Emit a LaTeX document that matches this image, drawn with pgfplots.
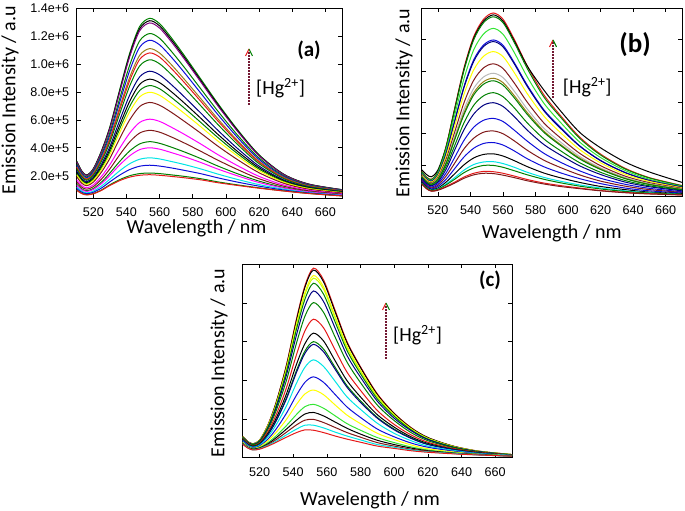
\documentclass[border=0pt]{standalone}
\usepackage{fontspec}
\setmainfont{Liberation Sans}
\newfontfamily\calib{Carlito}
\usepackage{pgfplots}
\usepackage{pgfplotstable}
\pgfplotsset{compat=1.18}

\definecolor{cG}{rgb}{0,0.5,0}
\definecolor{cLime}{rgb}{0.2,0.9,0.2}
\definecolor{cBlue}{rgb}{0.05,0.05,0.85}
\definecolor{cNavy}{rgb}{0,0,0.5}
\definecolor{cRed}{rgb}{0.9,0.1,0.1}
\definecolor{cMaroon}{rgb}{0.5,0.1,0.1}
\definecolor{cMag}{rgb}{1,0,1}
\definecolor{cCyan}{rgb}{0,0.9,0.9}
\definecolor{cYel}{rgb}{1,1,0}
\definecolor{cYG}{rgb}{0.8,1,0}
\definecolor{cOlive}{rgb}{0.6,0.5,0.1}
\definecolor{cPurple}{rgb}{0.5,0,0.5}
\definecolor{cGrey}{rgb}{0.72,0.72,0.72}
\definecolor{arrowc}{rgb}{0.45,0.1,0.2}

\pgfplotstableread{
x a1 a2 a3 a4 a5 a6 a7 a8 a9 a10 a11 a12 a13 a14 a15 a16 a17 a18 a19 a20 a21
510 3.05 3.02 2.99 2.85 2.76 2.64 2.59 2.49 2.34 2.23 2.15 2.06 1.92 1.70 1.55 1.39 1.31 1.18 1.08 .97 .95
513 2.35 2.33 2.30 2.19 2.12 2.03 1.99 1.92 1.80 1.72 1.65 1.58 1.47 1.30 1.18 1.06 1.00 .90 .82 .74 .72
516 2.05 2.03 2.01 1.91 1.85 1.77 1.73 1.67 1.57 1.49 1.44 1.37 1.28 1.13 1.03 .92 .87 .77 .71 .64 .62
520 2.50 2.47 2.45 2.33 2.25 2.15 2.10 2.02 1.89 1.80 1.73 1.65 1.53 1.34 1.21 1.08 1.01 .89 .81 .72 .70
525 3.80 3.76 3.72 3.52 3.40 3.25 3.17 3.04 2.84 2.69 2.57 2.45 2.27 1.96 1.76 1.55 1.44 1.26 1.12 .98 .95
530 5.50 5.44 5.38 5.09 4.91 4.69 4.57 4.39 4.08 3.87 3.69 3.51 3.24 2.79 2.49 2.19 2.02 1.75 1.56 1.35 1.30
536 8.20 8.10 8.01 7.56 7.28 6.93 6.75 6.46 5.99 5.65 5.38 5.10 4.68 3.98 3.51 3.03 2.78 2.36 2.05 1.72 1.65
542 10.80 10.67 10.54 9.94 9.55 9.07 8.83 8.44 7.79 7.34 6.97 6.59 6.01 5.06 4.43 3.78 3.43 2.86 2.44 2.00 1.90
548 12.70 12.54 12.39 11.67 11.21 10.63 10.34 9.87 9.09 8.55 8.11 7.65 6.96 5.82 5.06 4.28 3.87 3.18 2.68 2.15 2.03
554 13.28 13.11 12.95 12.19 11.71 11.11 10.80 10.31 9.49 8.92 8.46 7.98 7.25 6.05 5.25 4.44 4.00 3.28 2.75 2.19 2.07
560 12.90 12.74 12.58 11.85 11.38 10.79 10.50 10.02 9.23 8.67 8.23 7.76 7.05 5.89 5.12 4.32 3.90 3.20 2.69 2.15 2.03
567 11.90 11.75 11.61 10.93 10.51 9.97 9.70 9.26 8.54 8.03 7.62 7.19 6.55 5.48 4.78 4.05 3.66 3.02 2.56 2.06 1.95
575 10.60 10.47 10.35 9.75 9.38 8.90 8.67 8.28 7.64 7.20 6.84 6.46 5.89 4.96 4.34 3.70 3.36 2.80 2.38 1.95 1.85
585 8.90 8.79 8.69 8.20 7.89 7.50 7.31 6.99 6.47 6.10 5.80 5.49 5.03 4.26 3.74 3.22 2.94 2.48 2.14 1.78 1.70
595 7.20 7.11 7.03 6.65 6.40 6.09 5.94 5.69 5.27 4.98 4.75 4.50 4.13 3.52 3.12 2.70 2.48 2.12 1.85 1.56 1.50
607 5.30 5.24 5.18 4.91 4.74 4.52 4.42 4.24 3.95 3.74 3.58 3.41 3.15 2.72 2.44 2.14 1.99 1.73 1.54 1.34 1.30
620 3.50 3.46 3.43 3.27 3.16 3.03 2.97 2.86 2.69 2.57 2.47 2.36 2.21 1.95 1.78 1.61 1.51 1.36 1.25 1.13 1.10
635 2.10 2.08 2.07 1.98 1.93 1.87 1.83 1.78 1.69 1.63 1.58 1.53 1.45 1.33 1.24 1.15 1.11 1.03 .97 .91 .90
650 1.40 1.39 1.38 1.33 1.30 1.27 1.25 1.22 1.17 1.14 1.11 1.08 1.03 .96 .91 .86 .84 .79 .76 .73 .72
670 1.00 .99 .99 .96 .94 .91 .90 .88 .85 .82 .81 .79 .76 .71 .68 .64 .63 .60 .58 .55 .55
}\tabA

\pgfplotstableread{
x b1 b2 b3 b4 b5 b6 b7 b8 b9 b10 b11 b12 b13 b14 b15 b16 b17 b18 b19 b20 b21
510 .80 .85 .79 .76 .73 .73 .70 .67 .65 .64 .63 .60 .58 .54 .51 .48 .45 .43 .42 .40 .40
513 .62 .70 .61 .58 .56 .55 .53 .50 .48 .47 .46 .44 .41 .38 .35 .32 .30 .28 .27 .25 .25
516 .55 .63 .54 .51 .49 .48 .46 .43 .41 .40 .39 .36 .34 .30 .27 .24 .22 .20 .19 .17 .17
520 .80 .85 .79 .74 .70 .69 .66 .61 .58 .56 .55 .50 .46 .41 .36 .32 .27 .24 .23 .21 .20
525 1.60 1.58 1.57 1.48 1.38 1.37 1.29 1.19 1.11 1.07 1.05 .96 .87 .75 .65 .55 .46 .40 .37 .32 .30
530 2.75 2.72 2.70 2.53 2.36 2.34 2.19 2.01 1.88 1.80 1.77 1.59 1.45 1.22 1.04 .87 .71 .59 .54 .45 .42
536 4.10 4.06 4.02 3.76 3.51 3.47 3.26 2.99 2.78 2.67 2.61 2.35 2.13 1.79 1.52 1.26 1.01 .84 .76 .62 .58
542 5.10 5.05 5.00 4.68 4.36 4.31 4.04 3.71 3.45 3.31 3.24 2.91 2.63 2.21 1.86 1.54 1.23 1.02 .91 .74 .69
548 5.65 5.59 5.54 5.18 4.83 4.78 4.47 4.10 3.81 3.66 3.58 3.21 2.91 2.43 2.05 1.69 1.34 1.10 .99 .80 .74
554 5.85 5.79 5.73 5.36 4.99 4.94 4.62 4.23 3.93 3.77 3.69 3.31 2.99 2.49 2.09 1.72 1.36 1.11 .99 .79 .73
560 5.65 5.59 5.54 5.17 4.82 4.77 4.46 4.08 3.79 3.63 3.55 3.18 2.87 2.39 2.00 1.64 1.29 1.05 .93 .74 .68
567 5.00 4.95 4.90 4.58 4.26 4.22 3.94 3.61 3.35 3.21 3.14 2.82 2.54 2.11 1.77 1.45 1.14 .93 .82 .65 .60
575 4.15 4.15 4.07 3.80 3.54 3.50 3.27 3.00 2.78 2.67 2.61 2.34 2.11 1.76 1.47 1.20 .95 .77 .69 .54 .50
585 3.25 3.40 3.18 2.98 2.77 2.74 2.57 2.35 2.18 2.09 2.05 1.84 1.66 1.38 1.16 .95 .75 .61 .55 .43 .40
595 2.60 2.75 2.55 2.38 2.22 2.19 2.05 1.88 1.75 1.67 1.64 1.47 1.33 1.10 .93 .76 .60 .49 .44 .35 .32
607 1.90 2.05 1.86 1.74 1.62 1.61 1.50 1.38 1.28 1.23 1.20 1.08 .98 .82 .69 .57 .45 .37 .33 .27 .25
620 1.35 1.55 1.32 1.24 1.15 1.14 1.07 .98 .91 .88 .86 .77 .70 .58 .49 .41 .32 .27 .24 .19 .18
635 .90 1.10 .88 .83 .77 .76 .71 .65 .61 .58 .57 .51 .46 .39 .33 .27 .22 .18 .16 .13 .12
650 .60 .78 .59 .55 .51 .51 .48 .44 .41 .39 .38 .34 .31 .26 .22 .18 .14 .12 .11 .09 .08
670 .35 .45 .34 .32 .30 .30 .28 .26 .24 .23 .22 .20 .18 .15 .13 .11 .09 .07 .07 .05 .05
}\tabB

\pgfplotstableread{
x c1 c2 c3 c4 c5 c6 c7 c8 c9 c10 c11 c12 c13 c14 c15 c16 c17 c18 c19
510 .55 .55 .54 .54 .53 .52 .51 .49 .47 .46 .46 .44 .42 .40 .38 .37 .36 .36 .35
513 .42 .42 .41 .41 .40 .40 .38 .37 .35 .34 .34 .32 .31 .29 .28 .27 .26 .26 .25
516 .36 .36 .35 .35 .35 .34 .33 .31 .30 .29 .28 .27 .25 .24 .23 .22 .21 .20 .20
520 .45 .45 .44 .44 .43 .42 .40 .38 .36 .35 .34 .32 .30 .28 .26 .25 .24 .23 .22
525 .85 .84 .83 .82 .80 .77 .73 .68 .63 .60 .59 .54 .48 .44 .39 .36 .34 .32 .30
530 1.45 1.44 1.40 1.38 1.35 1.30 1.23 1.12 1.03 .97 .96 .86 .75 .66 .57 .52 .47 .43 .40
536 2.40 2.38 2.32 2.28 2.23 2.14 2.00 1.81 1.65 1.55 1.52 1.34 1.15 .99 .83 .74 .66 .59 .53
542 3.60 3.56 3.47 3.42 3.33 3.18 2.97 2.67 2.42 2.26 2.21 1.93 1.62 1.38 1.12 .97 .85 .74 .65
547 4.45 4.41 4.28 4.22 4.10 3.92 3.66 3.28 2.95 2.76 2.70 2.34 1.95 1.65 1.32 1.13 .97 .84 .72
552 4.90 4.85 4.71 4.64 4.51 4.31 4.01 3.58 3.22 3.00 2.93 2.53 2.09 1.75 1.38 1.17 .99 .84 .71
558 4.60 4.55 4.42 4.36 4.23 4.04 3.76 3.36 3.02 2.81 2.74 2.36 1.95 1.63 1.28 1.08 .91 .77 .65
565 3.80 3.76 3.65 3.60 3.50 3.34 3.11 2.78 2.50 2.33 2.28 1.97 1.63 1.36 1.08 .92 .78 .66 .56
572 3.00 2.97 2.89 2.84 2.77 2.64 2.47 2.21 1.99 1.86 1.82 1.57 1.31 1.10 .88 .76 .65 .56 .48
580 2.35 2.33 2.26 2.23 2.17 2.08 1.94 1.74 1.57 1.47 1.43 1.25 1.04 .88 .71 .61 .53 .46 .40
590 1.65 1.63 1.59 1.57 1.52 1.46 1.36 1.22 1.11 1.04 1.02 .89 .74 .63 .52 .45 .39 .34 .30
600 1.15 1.14 1.11 1.09 1.07 1.02 .96 .86 .79 .74 .72 .63 .54 .47 .39 .34 .30 .27 .24
610 .78 .77 .75 .74 .72 .70 .65 .59 .54 .51 .50 .44 .38 .33 .28 .25 .22 .20 .18
620 .52 .52 .50 .50 .48 .47 .44 .40 .37 .35 .34 .30 .27 .23 .20 .18 .17 .15 .14
635 .30 .30 .29 .29 .28 .27 .26 .24 .22 .21 .21 .19 .17 .15 .13 .12 .11 .11 .10
650 .17 .17 .17 .16 .16 .16 .15 .14 .13 .12 .12 .11 .10 .09 .09 .08 .08 .07 .07
670 .08 .08 .08 .08 .08 .07 .07 .07 .06 .06 .06 .06 .05 .05 .05 .04 .04 .04 .04
}\tabC

\pgfplotsset{
  spec/.style={
    scale only axis,
    xmin=510, xmax=670,
    xtick={520,540,...,660},
    tick align=inside,
    major tick length=4pt,
    tick style={black, line width=0.6pt},
    axis line style={black, line width=0.8pt},
    every axis plot/.append style={line width=1pt, no markers, smooth},
    ticklabel style={font=\fontsize{12.6}{14}\selectfont},
    /pgf/number format/assume math mode=true,
    label style={font=\calib\fontsize{20}{24}\selectfont},
    xticklabel style={yshift=-6pt},
    yticklabel style={xshift=-4pt},
    xlabel={Wavelength / nm},
    ylabel={Emission Intensity / a.u},
  }
}

\newcommand\hgarrow[3]{%
  \draw[arrowc, line width=1.6pt, dash pattern=on 1.5pt off 1.5pt] (#1pt,#2pt) -- (#1pt,#3pt-2pt);
  \draw[cRed, line width=1.1pt] (#1pt,#3pt) -- ++(-3.5pt,-7pt);
  \draw[cG, line width=1.1pt] (#1pt,#3pt) -- ++(3.5pt,-7pt);
}

\begin{document}
\begin{tikzpicture}
\useasboundingbox (0,0) rectangle (685pt,511pt);

% ---------- (a)
\begin{axis}[spec,
  at={(76.7pt,312.7pt)}, anchor=south west,
  width=265.3pt, height=190pt,
  ymin=0.38, ymax=14,
  ytick={2,4,6,8,10,12,14},
  yticklabels={2.0e+5,4.0e+5,6.0e+5,8.0e+5,1.0e+6,1.2e+6,1.4e+6},
  xlabel style={at={(axis description cs:0.452,-0.156)}, anchor=center},
  ylabel style={at={(axis description cs:-0.251,0.517)}, anchor=center},
  cycle list={{cG},{black},{cPurple},{cG},{cBlue},{cOlive},{cRed},{cG},{cNavy},{black},{cG},{cYel},{cMaroon},{cMag},{cMaroon},{cG},{cMag},{cCyan},{cBlue},{cG},{cRed}},
]
\pgfplotsinvokeforeach{1,...,21}{\addplot table[x=x, y=a#1]{\tabA};}
\end{axis}

% ---------- (b)
\begin{axis}[spec,
  at={(421.7pt,314.5pt)}, anchor=south west,
  width=260.3pt, height=188.2pt,
  ymin=0, ymax=6,
  ytick={1,2,3,4,5},
  yticklabels={,,,,,},
  xlabel style={at={(axis description cs:0.5,-0.194)}, anchor=center},
  ylabel style={at={(axis description cs:-0.068,0.497)}, anchor=center},
  cycle list={{cRed},{black},{cG},{cLime},{cBlue},{cNavy},{cYel},{cMaroon},{cGrey},{cOlive},{cG},{cG},{cNavy},{cBlue},{cMaroon},{cBlue},{black},{cCyan},{cG},{cRed},{cMaroon}},
]
\pgfplotsinvokeforeach{1,...,21}{\addplot table[x=x, y=b#1]{\tabB};}
\end{axis}

% ---------- (c)
\begin{axis}[spec,
  at={(242.7pt,53.3pt)}, anchor=south west,
  width=269.3pt, height=193.4pt,
  ymin=0, ymax=5,
  ytick={1,2,3,4},
  yticklabels={,,,,},
  xlabel style={at={(axis description cs:0.473,-0.219)}, anchor=center},
  ylabel style={at={(axis description cs:-0.088,0.49)}, anchor=center},
  cycle list={{cRed},{black},{cYel},{cYG},{cG},{cNavy},{cG},{cRed},{black},{cG},{cNavy},{cCyan},{cBlue},{cYel},{cLime},{black},{cMaroon},{cCyan},{cRed}},
]
\pgfplotsinvokeforeach{1,...,19}{\addplot table[x=x, y=c#1]{\tabC};}
\end{axis}

% ---------- annotations
\hgarrow{249}{406}{462}
\node[anchor=west, inner sep=0, font=\calib\fontsize{20}{24}\selectfont] at (256pt,423pt) {[Hg\textsuperscript{2+}]};
\node[inner sep=0, font=\calib\bfseries\fontsize{21}{24}\selectfont] at (309pt,461pt) {(a)};

\hgarrow{553}{413}{471}
\node[anchor=west, inner sep=0, font=\calib\fontsize{20}{24}\selectfont] at (562.7pt,424pt) {[Hg\textsuperscript{2+}]};
\node[inner sep=0, font=\calib\bfseries\fontsize{27}{30}\selectfont] at (635pt,466pt) {(b)};

\hgarrow{386}{152}{208}
\node[anchor=west, inner sep=0, font=\calib\fontsize{20}{24}\selectfont] at (393pt,176pt) {[Hg\textsuperscript{2+}]};
\node[inner sep=0, font=\calib\bfseries\fontsize{21}{24}\selectfont] at (490pt,231pt) {(c)};
\end{tikzpicture}
\end{document}
